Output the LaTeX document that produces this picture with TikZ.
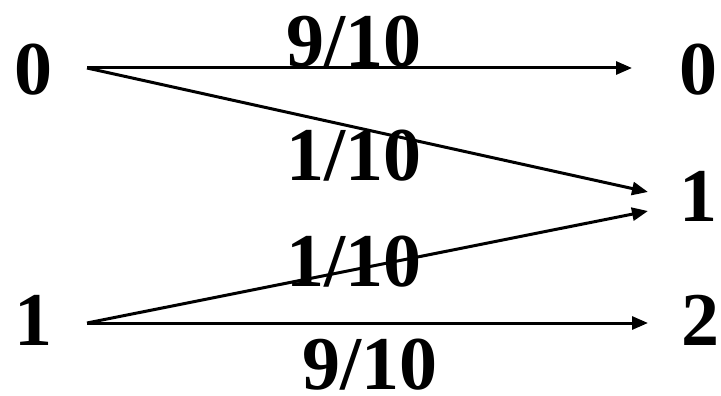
\documentclass[tikz,border=0pt]{standalone}
\usepackage{fontspec}
\setmainfont{Liberation Serif}
\usetikzlibrary{arrows.meta}
\begin{document}
\begin{tikzpicture}[x=1pt,y=-1pt,
  sym/.style={inner sep=0pt,font=\bfseries\fontsize{76}{90}\selectfont},
  lbl/.style={inner sep=0pt,font=\bfseries\fontsize{76}{90}\selectfont},
  conn/.style={line width=3pt,-{Triangle[length=16pt,width=13pt]}}]
\useasboundingbox (0,0) rectangle (721,396);
\node[sym] (L0) at (34,70) {0};
\node[sym] (L1) at (33,320) {1};
\node[sym] (R0) at (698,70) {0};
\node[sym] (R1) at (698,196) {1};
\node[sym] (R2) at (700,320) {2};
\coordinate (s0) at (87,68);
\coordinate (s1) at (87,323);
\coordinate (e0) at (632,68);
\coordinate (e1a) at (648,192);
\coordinate (e1b) at (648,211);
\coordinate (e2) at (648,323);
\draw[conn] (s0) -- (e0);
\draw[conn] (s0) -- (e1a);
\draw[conn] (s1) -- (e1b);
\draw[conn] (s1) -- (e2);
\node[lbl] (t0) at (354,42) {9/10};
\node[lbl] (t1) at (354,156) {1/10};
\node[lbl] (t2) at (354,262) {1/10};
\node[lbl] (t3) at (370,365) {9/10};
\end{tikzpicture}
\end{document}
